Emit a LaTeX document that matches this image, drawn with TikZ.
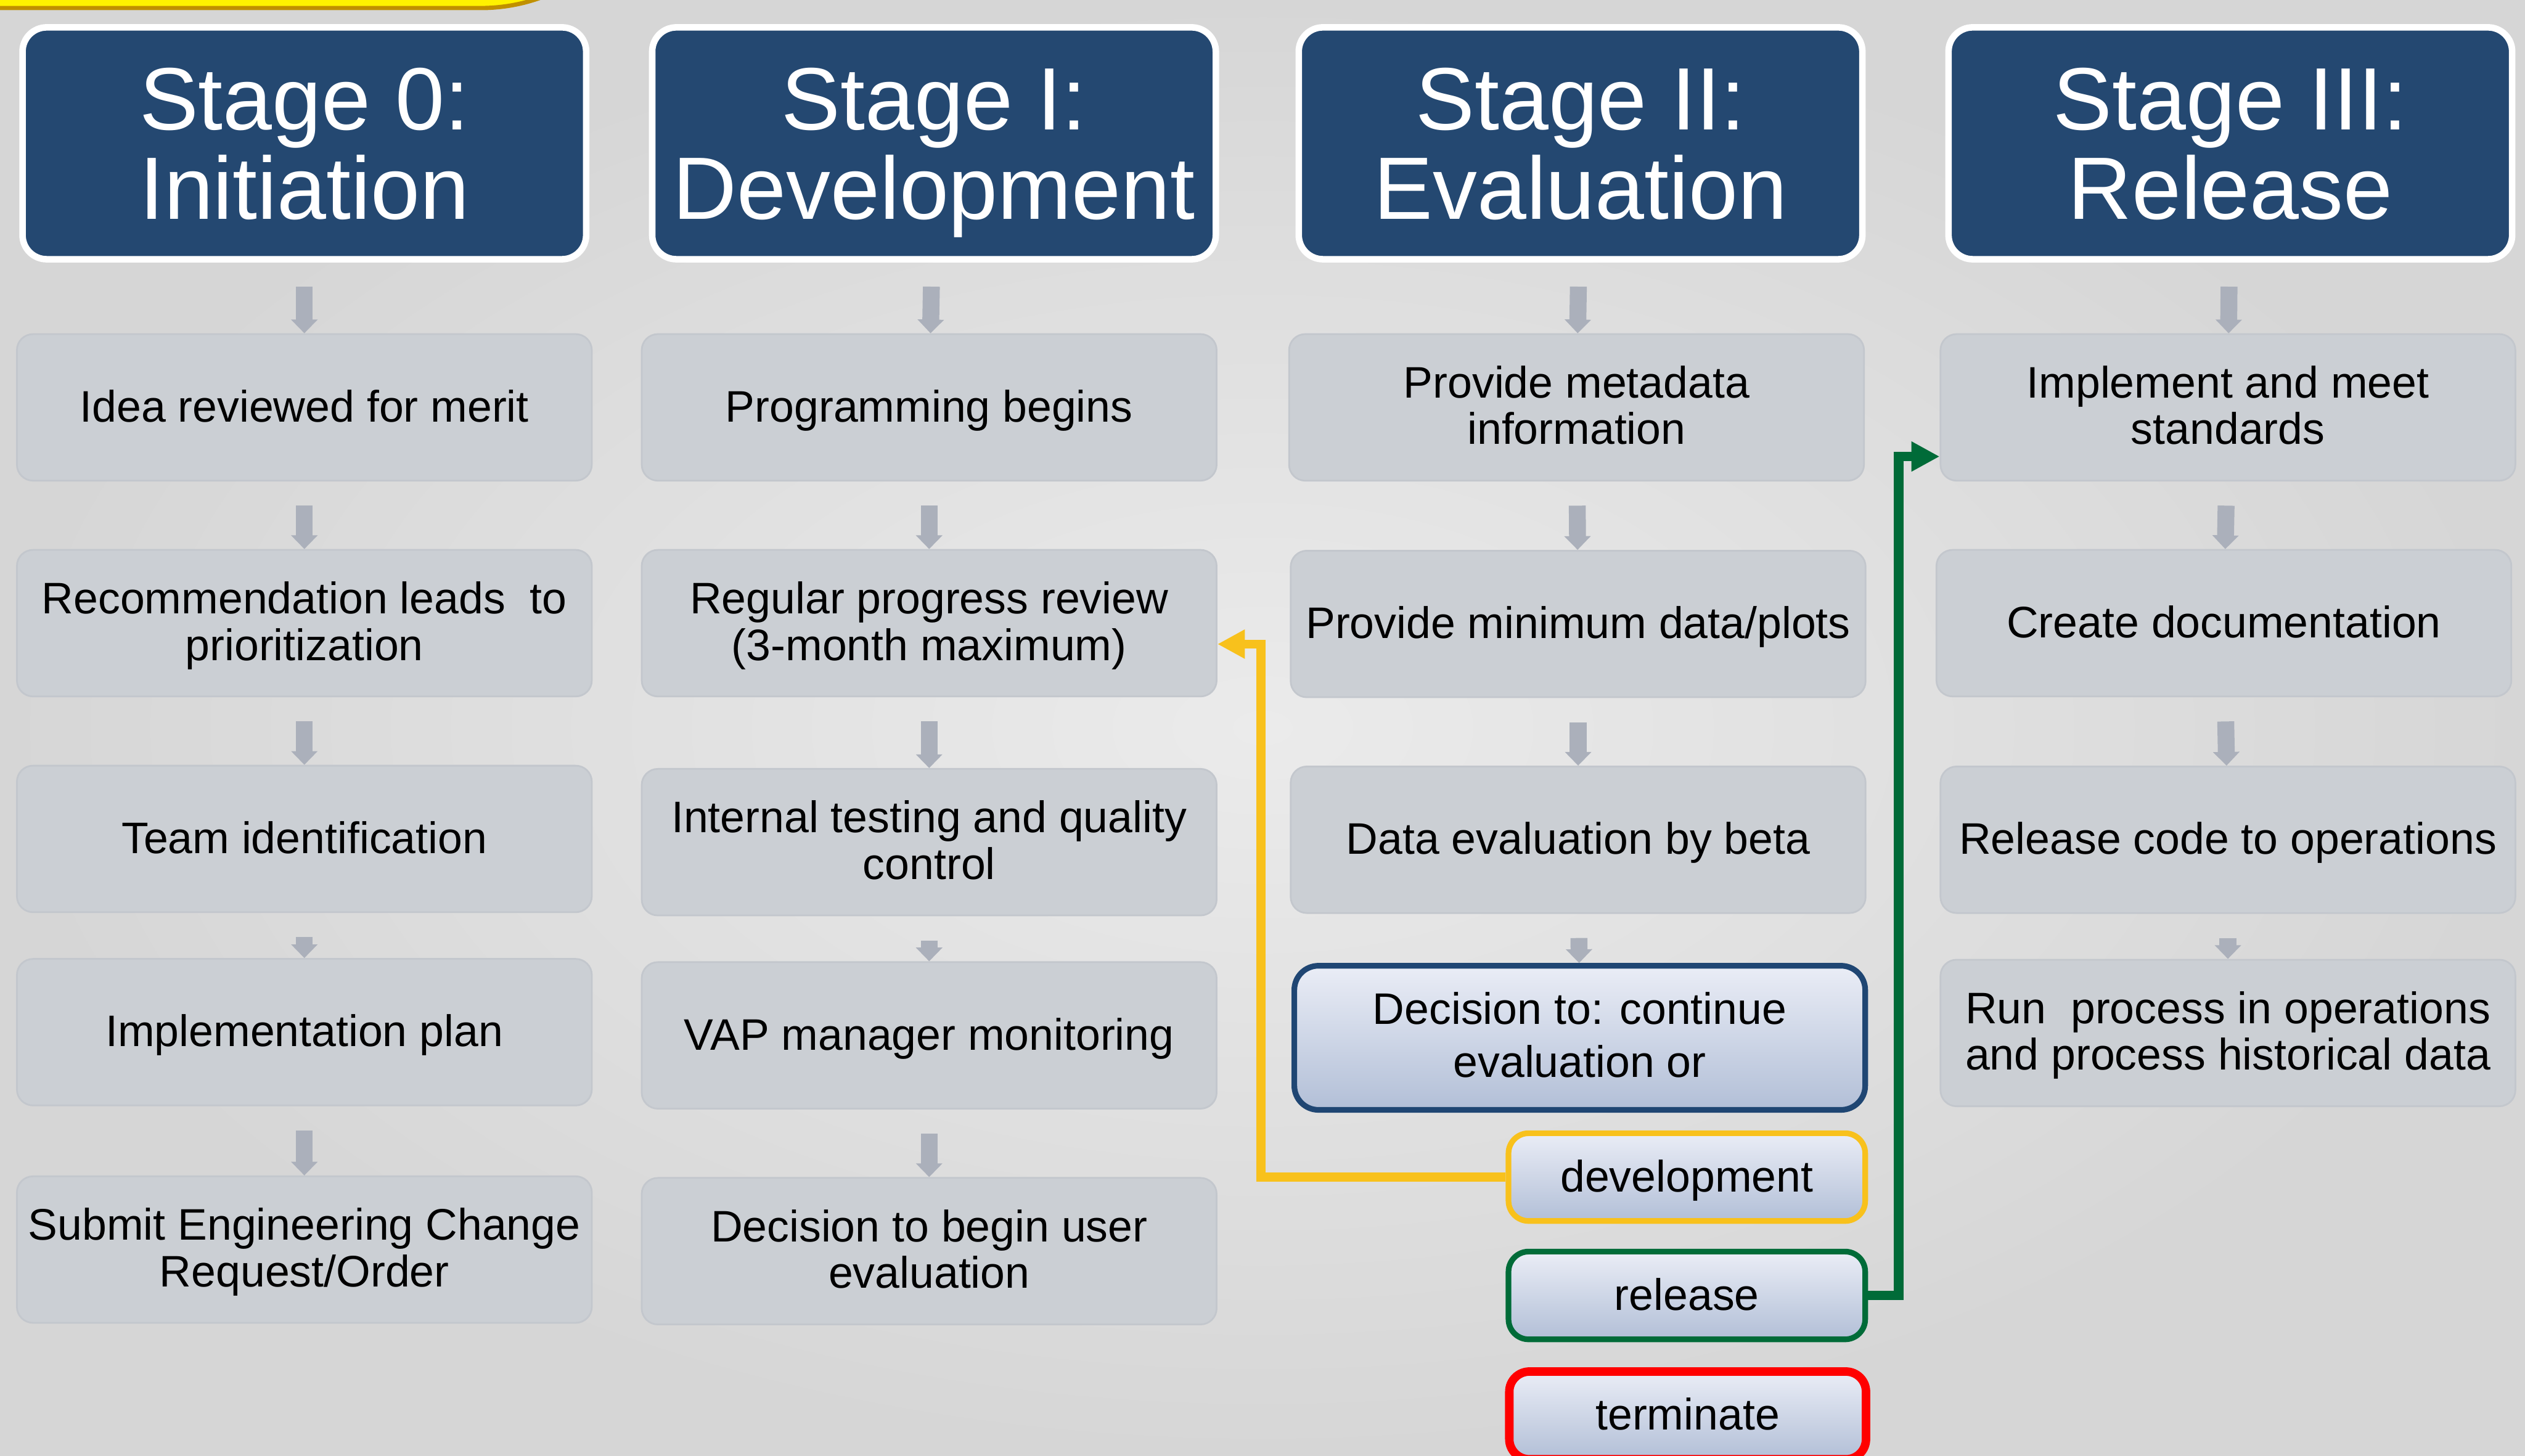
\documentclass[tikz,border=0pt]{standalone}
\usepackage{fontspec}
\setmainfont{Liberation Sans}
\usepackage{tikz}
\usetikzlibrary{arrows.meta}
\definecolor{stageblue}{HTML}{244871}
\definecolor{proclight}{HTML}{CBCFD4}
\definecolor{procedge}{HTML}{C3C7CD}
\definecolor{arrowgray}{HTML}{ABB0BB}
\definecolor{bglight}{HTML}{EBEBEB}
\definecolor{bgdark}{HTML}{D6D6D6}
\definecolor{decblue}{HTML}{1F4673}
\definecolor{dectop}{HTML}{EAEDF6}
\definecolor{decbottom}{HTML}{B2BFD7}
\definecolor{devyellow}{HTML}{F8C11C}
\definecolor{relgreen}{HTML}{006B38}
\definecolor{termred}{HTML}{FF0000}
\definecolor{baryellow}{HTML}{FFF200}
\definecolor{bargold}{HTML}{C09000}
\tikzset{
  stage/.style={draw=white, line width=2.3pt, rounded corners=0.3cm, fill=stageblue, text=white, minimum width=7.0cm, minimum height=2.88cm, inner sep=0pt, align=center, text height=1.98cm, text depth=0.1cm, font=\fontsize{31.3}{31.6}\selectfont},
  proc/.style={draw=procedge, line width=0.6pt, rounded corners=0.2cm, fill=proclight, minimum width=7.14cm, minimum height=1.82cm, inner sep=1pt, align=center, text height=0.42cm, text depth=0.06cm, font=\fontsize{15.6}{16.5}\selectfont},
  proctwo/.style={proc, text height=0.98cm},
  choice/.style={rounded corners=0.25cm, top color=dectop, bottom color=decbottom, line width=2pt, minimum width=4.43cm, minimum height=1.09cm, inner sep=1pt, align=center, text height=0.42cm, text depth=0.06cm, font=\fontsize{15.6}{16.5}\selectfont},
  decnode/.style={choice, draw=decblue, rounded corners=0.3cm, minimum width=7.09cm, minimum height=1.79cm, text height=1.04cm, font=\fontsize{15.6}{18.8}\selectfont},
  devnode/.style={choice, draw=devyellow},
  relnode/.style={choice, draw=relgreen},
  termnode/.style={choice, draw=termred, line width=3pt},
  arr/.style={-{Triangle[length=0.17cm, width=0.32cm]}, line width=0.21cm, arrowgray, shorten <=0.3cm},
  devarrow/.style={-{Triangle[length=0.34cm, width=0.34cm]}, line width=3.1pt, devyellow},
  relarrow/.style={-{Triangle[length=0.35cm, width=0.35cm]}, line width=3.4pt, relgreen},
  topbar/.style={draw=bargold, line width=1.5pt, fill=baryellow, rounded corners=2.2cm}
}

\begin{document}
\begin{tikzpicture}

% ===== PAGE + BACKGROUND =====
\useasboundingbox (0,0) rectangle (31.36,-18.08);
\clip (0,0) rectangle (31.36,-18.08);
\shade[inner color=bglight, outer color=bgdark] (0,0) rectangle (31.36,-18.08);
\draw[topbar] (-3, 4.4) rectangle (8.17, -0.1);

% ===== STAGE HEADERS =====
\node[stage] (H0) at (3.78, -1.78)  {Stage 0:\\Initiation};
\node[stage] (H1) at (11.60, -1.78) {Stage I:\\Development};
\node[stage] (H2) at (19.63, -1.78) {Stage II:\\Evaluation};
\node[stage] (H3) at (27.70, -1.78) {Stage III:\\Release};

% ===== STAGE 0: INITIATION =====
\node[proc]    (IDEA) at (3.78, -5.06)  {Idea reviewed for merit};
\node[proctwo] (REC)  at (3.78, -7.74)  {Recommendation leads\ \ to\\prioritization};
\node[proc]    (TEAM) at (3.78, -10.42) {Team identification};
\node[proc]    (PLAN) at (3.78, -12.82) {Implementation plan};
\node[proctwo] (ECR)  at (3.78, -15.52) {Submit Engineering Change\\Request/Order};

% ===== STAGE I: DEVELOPMENT =====
\node[proc]    (PROG) at (11.54, -5.06)  {Programming begins};
\node[proctwo] (REV)  at (11.54, -7.74)  {Regular progress review\\(3-month maximum)};
\node[proctwo] (TEST) at (11.54, -10.46) {Internal testing and quality\\control};
\node[proc]    (VAP)  at (11.54, -12.86) {VAP manager monitoring};
\node[proctwo] (USER) at (11.54, -15.54) {Decision to begin user\\evaluation};

% ===== STAGE II: EVALUATION =====
\node[proctwo] (META) at (19.58, -5.06)  {Provide metadata\\information};
\node[proc]    (MIN)  at (19.60, -7.75)  {Provide minimum data/plots};
\node[proc]    (BETA) at (19.60, -10.43) {Data evaluation by beta};
\node[decnode] (DEC)  at (19.62, -12.89) {Decision to: continue\\evaluation or};
\node[devnode] (DEV)  at (20.95, -14.62) {development};
\node[relnode] (REL)  at (20.95, -16.09) {release};
\node[termnode] (TERM) at (20.96, -17.58) {terminate};

% ===== STAGE III: RELEASE =====
\node[proctwo] (STD)  at (27.67, -5.06)  {Implement and meet\\standards};
\node[proc]    (DOC)  at (27.62, -7.74)  {Create documentation};
\node[proc]    (CODE) at (27.67, -10.43) {Release code to operations};
\node[proctwo] (RUN)  at (27.67, -12.83) {Run\ \ process in operations\\and process historical data};

% ===== COLUMN FLOW ARROWS =====
\draw[arr] (H0)   -- (IDEA);
\draw[arr] (IDEA) -- (REC);
\draw[arr] (REC)  -- (TEAM);
\draw[arr] (TEAM) -- (PLAN);
\draw[arr] (PLAN) -- (ECR);

\draw[arr] (H1)   -- (PROG);
\draw[arr] (PROG) -- (REV);
\draw[arr] (REV)  -- (TEST);
\draw[arr] (TEST) -- (VAP);
\draw[arr] (VAP)  -- (USER);

\draw[arr] (H2)   -- (META);
\draw[arr] (META) -- (MIN);
\draw[arr] (MIN)  -- (BETA);
\draw[arr] (BETA) -- (DEC);

\draw[arr] (H3)   -- (STD);
\draw[arr] (STD)  -- (DOC);
\draw[arr] (DOC)  -- (CODE);
\draw[arr] (CODE) -- (RUN);

% ===== DECISION OUTCOMES =====
\coordinate (DEVBEND) at (15.66, -8.0);
\draw[devarrow] (DEV.west) -| (DEVBEND) -- (DEVBEND -| REV.east);
\coordinate (RELBEND) at (23.58, -5.67);
\draw[relarrow] (REL.east) -| (RELBEND) -- (RELBEND -| STD.west);

\end{tikzpicture}
\end{document}
